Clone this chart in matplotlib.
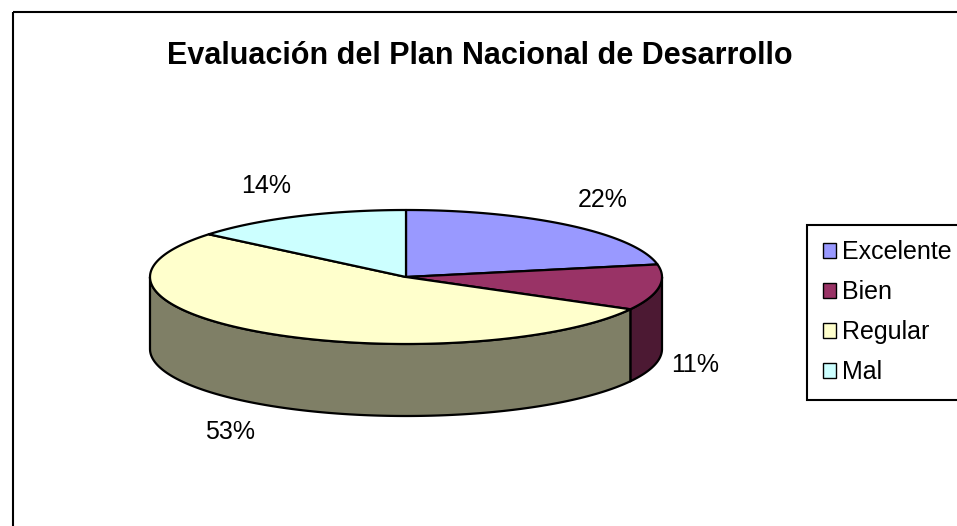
import numpy as np
import matplotlib.pyplot as plt
from matplotlib.patches import Polygon, Rectangle, Patch

# --- data ---
categories = ["Excelente", "Bien", "Regular", "Mal"]
percent = [22, 11, 53, 14]
top_colors = ["#9999FF", "#993366", "#FFFFCC", "#CCFFFF"]
side_colors = ["#4C4C7F", "#4C1933", "#7F7F66", "#667F7F"]
title = "Evaluación del Plan Nacional de Desarrollo"

# --- layout (pixel coordinates) ---
W, H = 957, 526
CX, CY = 406, 277      # centre of top ellipse
RX, RY = 256, 67       # ellipse radii
DEPTH = 72             # height of pie wall
LW = 1.6

plt.rcParams['font.family'] = ['Liberation Sans', 'DejaVu Sans']

fig = plt.figure(figsize=(W / 100, H / 100), dpi=100)
ax = fig.add_axes([0, 0, 1, 1])
ax.set_xlim(0, W)
ax.set_ylim(H, 0)
ax.axis('off')


def arc(t0, t1, dy=0.0, n=200):
    t = np.radians(np.linspace(t0, t1, n))
    return np.column_stack([CX + RX * np.cos(t), CY - RY * np.sin(t) + dy])


# slices start at 12 o'clock and go clockwise
frac = np.array(percent) / sum(percent)
ends = 90 - 360 * np.cumsum(frac)
starts = np.r_[90, ends[:-1]]

# side walls (only the front half, -180..0 deg, is visible)
for a, b, sc in zip(starts, ends, side_colors):
    hi, lo = min(a, 0), max(b, -180)
    if hi <= lo:
        continue
    top = arc(hi, lo)
    bot = arc(lo, hi, dy=DEPTH)
    ax.add_patch(Polygon(np.vstack([top, bot]), closed=True, facecolor=sc,
                         edgecolor='black', lw=LW, joinstyle='round'))

# top faces
for a, b, tc in zip(starts, ends, top_colors):
    pts = np.vstack([[CX, CY], arc(a, b)])
    ax.add_patch(Polygon(pts, closed=True, facecolor=tc, edgecolor='black',
                         lw=LW, joinstyle='round'))

# percentage labels outside the pie
for a, b, p in zip(starts, ends, percent):
    m = np.radians((a + b) / 2)
    x = CX + 1.05 * RX * np.cos(m)
    y = CY - 1.5 * RY * np.sin(m)
    if np.sin(m) < 0:
        y += DEPTH
    ha = 'left' if np.cos(m) > 0 else 'right'
    ax.text(x, y, f"{p}%", ha=ha, va='center', fontsize=18)

ax.text(480, 56, title, ha='center', va='center', fontsize=22,
        fontweight='bold')

# chart border
ax.add_patch(Rectangle((13, 12), W + 20, H + 20, fill=False,
                       edgecolor='black', lw=1.5, clip_on=False))

handles = [Patch(facecolor=c, edgecolor='black', lw=1) for c in top_colors]
leg = ax.legend(handles, categories, loc='upper left',
                bbox_to_anchor=(807 / W, 1 - 225 / H),
                bbox_transform=fig.transFigure, fancybox=False,
                edgecolor='black', framealpha=1, fontsize=18,
                handlelength=0.55, handleheight=0.55, handletextpad=0.25,
                labelspacing=0.64, borderpad=0.62, borderaxespad=0)
leg.get_frame().set_linewidth(1.5)

fig.savefig("out.png", dpi=100)
